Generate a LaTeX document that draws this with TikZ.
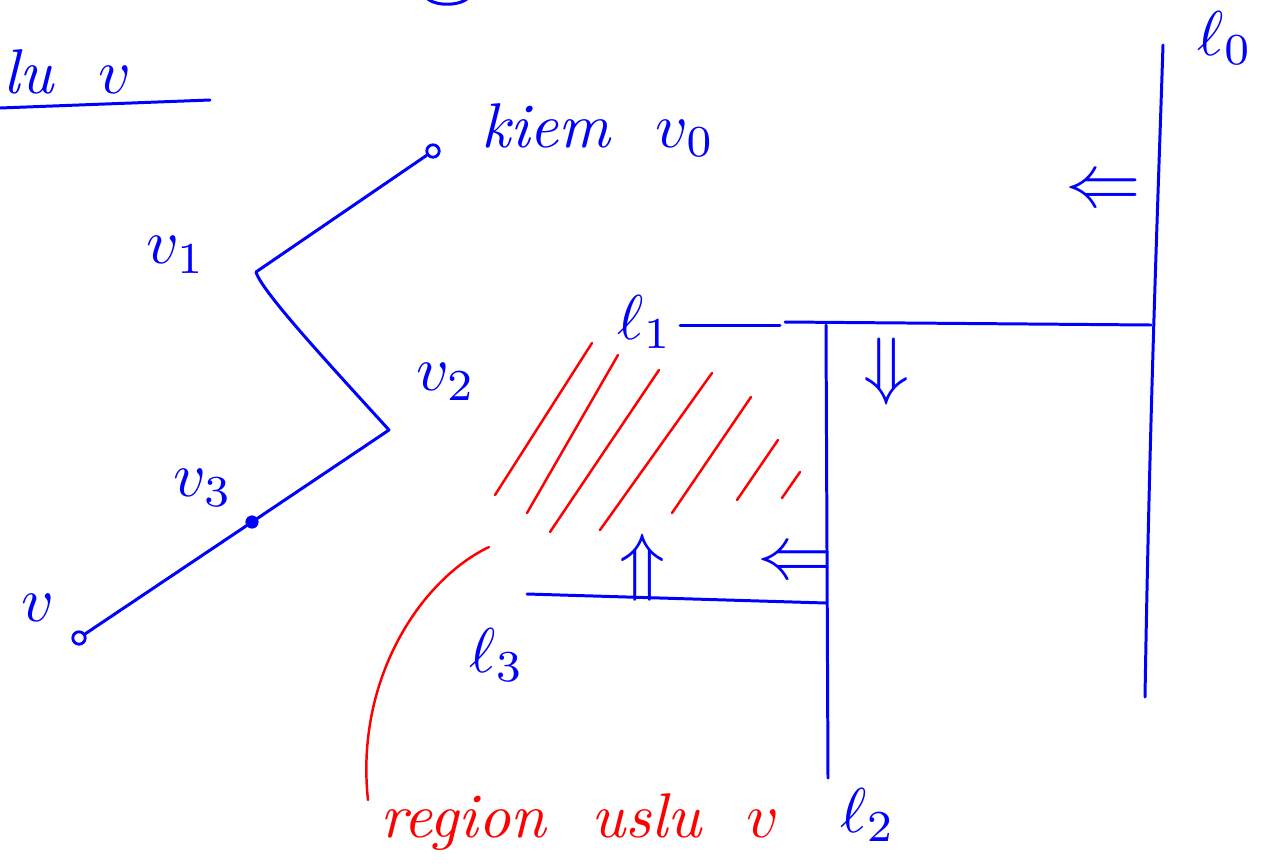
\documentclass[tikz,border=0pt]{standalone}
\usetikzlibrary{positioning}
\newcommand{\hw}[1]{\scalebox{3.6}{#1}}
\begin{document}
\begin{tikzpicture}
[
    x=0.02cm, y=-0.02cm,
    pen/.style={blue, line width=1.7pt, line cap=round, line join=round},
    hatch/.style={red, line width=1.4pt, line cap=round},
    hand/.style={blue, font=\itshape, inner sep=0pt},
    ring/.style={draw=blue, line width=1.6pt, circle, inner sep=2.5pt},
    dot/.style={draw=blue, fill=blue, circle, inner sep=2.5pt}
]
    \useasboundingbox (0,0) rectangle (1265,863);

    \node [hand, anchor=west] (title) at (3,72) {\hw{lu\ \ $v$}};
    \coordinate (ula) at (0,108);
    \coordinate (ulb) at (210,100);
    \draw [pen] (ula) -- (ulb);
    \draw [pen] (425,-4) .. controls (432,7) and (462,7) .. (470,-4);

    \node [ring] (v0) at (433,151) {};
    \node [dot] (v3) at (252,522) {};
    \node [ring] (v) at (79,638) {};
    \coordinate (v1) at (256,272);
    \coordinate (v2) at (389,430);
    \draw [pen] (v0) -- (v1) .. controls (262,292) and (330,365) .. (v2) -- (v3) -- (v);

    \node [hand] (kiem) at (598,130) {\hw{kiem\ \ $v_0$}};
    \node [hand] (lv1) at (176,255) {\hw{$v_1$}};
    \node [hand] (lv2) at (446,382) {\hw{$v_2$}};
    \node [hand] (lv3) at (203,488) {\hw{$v_3$}};
    \node [hand] (lv) at (38,608) {\hw{$v$}};

    \coordinate (l0a) at (1163,45);
    \coordinate (l0b) at (1145,697);
    \coordinate (l1a) at (680,325);
    \coordinate (l1b) at (780,325);
    \coordinate (l1c) at (785,322);
    \coordinate (l1d) at (1151,325);
    \coordinate (l2a) at (826,325);
    \coordinate (l2b) at (828,778);
    \coordinate (l3a) at (527,594);
    \coordinate (l3b) at (826,603);
    \draw [pen] (l0a) .. controls (1158,200) and (1150,400) .. (l0b);
    \draw [pen] (l1a) -- (l1b);
    \draw [pen] (l1c) -- (l1d);
    \draw [pen] (l2a) -- (l2b);
    \draw [pen] (l3a) -- (l3b);

    \node [hand] (ll0) at (1225,38) {\hw{$\ell_0$}};
    \node [hand] (ll1) at (645,322) {\hw{$\ell_1$}};
    \node [hand] (ll2) at (868,815) {\hw{$\ell_2$}};
    \node [hand] (ll3) at (497,655) {\hw{$\ell_3$}};

    \node [hand] (a0) at (1103,193) {\scalebox{4.3}{$\Leftarrow$}};
    \node [hand] (a1) at (887,372) {\scalebox{4.3}{$\Downarrow$}};
    \node [hand] (a2) at (795,565) {\scalebox{4.3}{$\Leftarrow$}};
    \node [hand] (a3) at (643,568) {\scalebox{4.3}{$\Uparrow$}};

    \begin{scope}[every path/.style={hatch}]
        \foreach \xa/\ya/\xb/\yb in {495/495/592/343, 527/513/618/355, 550/532/659/370,
                                     600/530/712/373, 672/513/751/397, 737/500/778/440,
                                     782/498/800/472}
            \draw (\xa,\ya) -- (\xb,\yb);
        \draw (489,547) .. controls (420,580) and (355,680) .. (368,800);
        \node [hand, red] (reg) at (580,822) {\hw{region\ \ uslu\ \ $v$}};
    \end{scope}
\end{tikzpicture}
\end{document}
